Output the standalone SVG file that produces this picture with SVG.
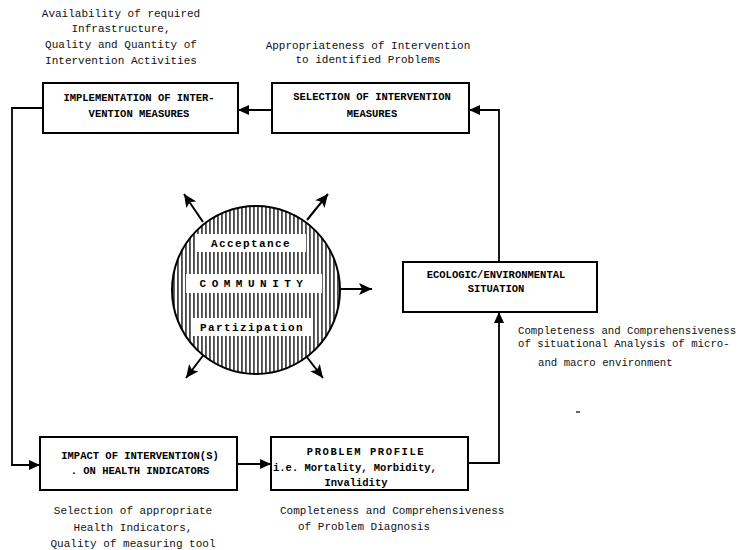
<svg xmlns="http://www.w3.org/2000/svg" width="739" height="550" viewBox="0 0 739 550">
<style>
.box{fill:#fff;stroke:#000;stroke-width:2}
.ann{font-family:"Liberation Mono","DejaVu Sans Mono",monospace;font-size:11px;fill:#111}
.lbl{font-family:"Liberation Mono","DejaVu Sans Mono",monospace;font-size:10.5px;font-weight:bold;fill:#000}
.cir{font-family:"Liberation Mono","DejaVu Sans Mono",monospace;font-size:11px;font-weight:bold;fill:#000}
.con{fill:none;stroke:#000;stroke-width:1.8;marker-end:url(#ah)}
.out{fill:none;stroke:#000;stroke-width:2;marker-end:url(#ah2)}
</style>
<defs>
<marker id="ah" markerUnits="userSpaceOnUse" markerWidth="12" markerHeight="10" refX="11" refY="5" orient="auto"><path d="M0,0 L11,5 L0,10 z" fill="#000"/></marker>
<marker id="ah2" markerUnits="userSpaceOnUse" markerWidth="14" markerHeight="12" refX="13" refY="6" orient="auto"><path d="M0,0 L13,6 L0,12 L3,6 z" fill="#000"/></marker>
<pattern id="hatch" patternUnits="userSpaceOnUse" width="4" height="10"><rect x="1.3" y="0" width="1.3" height="10" fill="#000"/></pattern>
<clipPath id="cc"><circle cx="256" cy="290" r="84"/></clipPath>
</defs>
<rect width="739" height="550" fill="#fff"/>

<g id="annotations">
<text class="ann" text-anchor="middle" x="121" y="17">Availability of required</text>
<text class="ann" text-anchor="middle" x="121" y="32">Infrastructure,</text>
<text class="ann" text-anchor="middle" x="121" y="48">Quality and Quantity of</text>
<text class="ann" text-anchor="middle" x="121" y="64">Intervention Activities</text>
<text class="ann" text-anchor="middle" x="368" y="49">Appropriateness of Intervention</text>
<text class="ann" text-anchor="middle" x="368" y="63">to identified Problems</text>
<text class="ann" x="518" y="334" style="font-size:10.7px">Completeness and Comprehensiveness</text>
<text class="ann" x="518" y="347" style="font-size:10.7px">of situational Analysis of micro-</text>
<text class="ann" x="538" y="366" style="font-size:10.7px">and macro environment</text>
<text class="ann" text-anchor="middle" x="133" y="514">Selection of appropriate</text>
<text class="ann" text-anchor="middle" x="133" y="531">Health Indicators,</text>
<text class="ann" text-anchor="middle" x="133" y="547">Quality of measuring tool</text>
<text class="ann" x="280" y="514">Completeness and Comprehensiveness</text>
<text class="ann" x="298" y="530">of Problem Diagnosis</text>
<line x1="576" y1="412" x2="580" y2="412" stroke="#000" stroke-width="1.2"/>
</g>

<g id="connectors">
<path class="con" d="M272,110 H238"/>
<path class="con" d="M499,262 V110 H469"/>
<path class="con" d="M43,108 H12 V465 H40"/>
<path class="con" d="M237,464 H271"/>
<path class="con" d="M468,463 H499 V312"/>
<path class="out" d="M203,222 L184,194"/>
<path class="out" d="M307,220 L328,194"/>
<path class="out" d="M340,289 L372,289"/>
<path class="out" d="M205,353 L186,378"/>
<path class="out" d="M303,352 L323,378"/>
</g>

<g id="implementation">
<rect class="box" x="43" y="83" width="195" height="50"/>
<text class="lbl" text-anchor="middle" x="139" y="101">IMPLEMENTATION OF INTER-</text>
<text class="lbl" text-anchor="middle" x="139" y="117">VENTION MEASURES</text>
</g>

<g id="selection">
<rect class="box" x="272" y="83" width="197" height="50"/>
<text class="lbl" text-anchor="middle" x="372" y="100">SELECTION OF INTERVENTION</text>
<text class="lbl" text-anchor="middle" x="372" y="117">MEASURES</text>
</g>

<g id="ecologic">
<rect class="box" x="403" y="262" width="194" height="50"/>
<text class="lbl" text-anchor="middle" x="496" y="278">ECOLOGIC/ENVIRONMENTAL</text>
<text class="lbl" text-anchor="middle" x="496" y="292">SITUATION</text>
</g>

<g id="impact">
<rect class="box" x="40" y="437" width="197" height="53"/>
<text class="lbl" text-anchor="middle" x="140" y="459">IMPACT OF INTERVENTION(S)</text>
<text class="lbl" text-anchor="middle" x="140" y="474">. ON HEALTH INDICATORS</text>
</g>

<g id="problem">
<rect class="box" x="271" y="437" width="197" height="53"/>
<text class="lbl" text-anchor="middle" x="366" y="455" style="letter-spacing:1.6px">PROBLEM PROFILE</text>
<text class="lbl" x="273" y="471">i.e. Mortality, Morbidity,</text>
<text class="lbl" text-anchor="middle" x="356" y="486">Invalidity</text>
</g>

<g id="community">
<circle cx="256" cy="290" r="84" fill="#fff"/>
<g clip-path="url(#cc)">
<rect x="170" y="204" width="172" height="172" fill="url(#hatch)"/>
<rect x="196" y="234" width="110" height="18" fill="#fff"/>
<rect x="186" y="274" width="136" height="19" fill="#fff"/>
<rect x="192" y="318" width="120" height="18" fill="#fff"/>
</g>
<circle cx="256" cy="290" r="84" fill="none" stroke="#000" stroke-width="2"/>
<text class="cir" text-anchor="middle" x="251" y="247" style="letter-spacing:1.4px">Acceptance</text>
<text class="cir" text-anchor="middle" x="254" y="287" style="letter-spacing:5.5px">COMMUNITY</text>
<text class="cir" text-anchor="middle" x="252" y="331" style="letter-spacing:1.4px">Partizipation</text>
</g>
</svg>
